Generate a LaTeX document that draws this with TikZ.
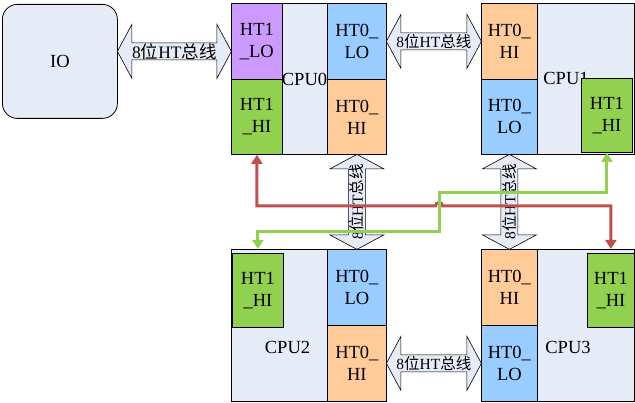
\documentclass[tikz,border=0pt]{standalone}
\usepackage{fontspec}
\setmainfont{Liberation Serif}
\newfontfamily\cjk{Noto Sans CJK SC}
\usetikzlibrary{calc,arrows.meta}

\definecolor{cpubg}{HTML}{E6ECF7}
\definecolor{htpurple}{HTML}{CC99FF}
\definecolor{htgreen}{HTML}{92D050}
\definecolor{htblue}{HTML}{99CCFF}
\definecolor{htorange}{HTML}{FFCC99}
\definecolor{linkred}{HTML}{C0504D}

\tikzset{
  cpubox/.style={draw, fill=cpubg, line width=0.8pt, inner sep=0pt, anchor=north west},
  htbox/.style n args={3}{cpubox, fill=#1, minimum width=#2, minimum height=#3,
    align=center, font=\fontsize{18.5}{22}\selectfont},
  cpulabel/.style={font=\fontsize{18.5}{22}\selectfont, inner sep=0pt},
  busarrow/.style={draw, fill=cpubg, line width=0.6pt, line join=miter},
  bustext/.style={inner sep=0pt},
  link/.style={line width=3pt, >={Triangle[width=11pt,length=9pt]}},
}

% 8-bit HT bus: name, centre, angle, half length, font
\newcommand\htbus[5]{%
  \begin{scope}[shift={#2}, rotate=#3]
    \draw[busarrow] (-#4,0) -- (-#4+14.5,27) -- (-#4+14.5,8.5) -- (#4-14.5,8.5)
      -- (#4-14.5,27) -- (#4,0) -- (#4-14.5,-27) -- (#4-14.5,-8.5)
      -- (-#4+14.5,-8.5) -- (-#4+14.5,-27) -- cycle;
    \node[bustext, font=#5, rotate=#3] (#1) at (0,0) {8{\cjk 位}HT{\cjk 总线}};
  \end{scope}}

\begin{document}
\begin{tikzpicture}[x=1pt,y=1pt]
\useasboundingbox (0,0) rectangle (635,403);

% IO
\node[cpubox, rounded corners=15pt, minimum width=115, minimum height=114,
  font=\fontsize{18.5}{22}\selectfont] (io) at (2,399) {IO};

% CPU0
\node[cpubox, minimum width=155, minimum height=151] (cpu0) at (231,400) {};
\node[cpulabel] (cpu0name) at (304.5,324) {CPU0};
\node[htbox={htpurple}{51}{76}] (c0ht1lo) at (231,400) {HT1\\\_LO};
\node[htbox={htgreen}{51}{75}] (c0ht1hi) at (231,324) {HT1\\\_HI};
\node[htbox={htblue}{59}{76}] (c0ht0lo) at (327,400) {HT0\_\\LO};
\node[htbox={htorange}{59}{75}] (c0ht0hi) at (327,324) {HT0\_\\HI};

% CPU1
\node[cpubox, minimum width=153, minimum height=151] (cpu1) at (481,400) {};
\node[cpulabel] (cpu1name) at (566,325) {CPU1};
\node[htbox={htorange}{56}{76}] (c1ht0hi) at (481,400) {HT0\_\\HI};
\node[htbox={htblue}{56}{75}] (c1ht0lo) at (481,324) {HT0\_\\LO};
\node[htbox={htgreen}{51}{74}] (c1ht1hi) at (581,325) {HT1\\\_HI};

% CPU2
\node[cpubox, minimum width=155, minimum height=152] (cpu2) at (231,154) {};
\node[cpulabel] (cpu2name) at (287.5,56) {CPU2};
\node[htbox={htgreen}{51}{74}] (c2ht1hi) at (232,150) {HT1\\\_HI};
\node[htbox={htblue}{59}{76}] (c2ht0lo) at (327,154) {HT0\_\\LO};
\node[htbox={htorange}{59}{76}] (c2ht0hi) at (327,78) {HT0\_\\HI};

% CPU3
\node[cpubox, minimum width=153, minimum height=152] (cpu3) at (481,154) {};
\node[cpulabel] (cpu3name) at (568,56) {CPU3};
\node[htbox={htorange}{56}{76}] (c3ht0hi) at (481,154) {HT0\_\\HI};
\node[htbox={htblue}{56}{76}] (c3ht0lo) at (481,78) {HT0\_\\LO};
\node[htbox={htgreen}{47}{74}] (c3ht1hi) at (587,150) {HT1\\\_HI};

% HT buses
\htbus{iobus}{($(io.east)!0.5!(c0ht1lo.west)$)}{0}{57}{\fontsize{17.5}{17}\selectfont}
\htbus{bus01}{($(c0ht0lo.east)!0.5!(c1ht0hi.west)$)}{0}{47.5}{\fontsize{15.5}{16}\selectfont}
\htbus{bus23}{($(c2ht0hi.east)!0.5!(c3ht0lo.west)$)}{0}{47.5}{\fontsize{15.5}{16}\selectfont}
\htbus{bus02}{($(c0ht0hi.south)!0.5!(c2ht0lo.north)$)}{90}{47.5}{\fontsize{15.5}{16}\selectfont}
\htbus{bus13}{($(c1ht0lo.south)!0.5!(c3ht0hi.north)$)}{90}{47.5}{\fontsize{15.5}{16}\selectfont}

% HT1 links
\draw[link, linkred, <->] (c0ht1hi.south) |- (435.5,197)
  arc[start angle=180, end angle=0, radius=3.5pt] -| (c3ht1hi.north |- cpu3.north);
\draw[link, htgreen, <->] (c2ht1hi.north |- cpu2.north) |- (439,171)
  |- (c1ht1hi.south |- 0,210) -- (c1ht1hi.south);
\end{tikzpicture}
\end{document}
